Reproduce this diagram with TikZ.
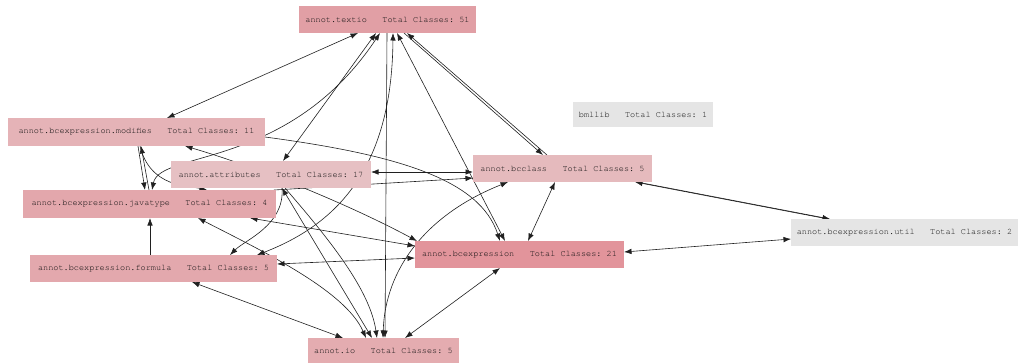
\documentclass[tikz,border=0pt]{standalone}
\usepackage{fontspec}
\setmonofont{TeX Gyre Cursor}
\usetikzlibrary{arrows.meta,calc}
\pgfdeclarelayer{edges}
\pgfsetlayers{edges,main}
\definecolor{ctextio}{HTML}{E19FA5}
\definecolor{cmod}{HTML}{E5B3B7}
\definecolor{cattr}{HTML}{E6C0C3}
\definecolor{cjava}{HTML}{E3A7AC}
\definecolor{cform}{HTML}{E3A8AD}
\definecolor{cbce}{HTML}{E2949B}
\definecolor{cio}{HTML}{E4ACB0}
\definecolor{cbcc}{HTML}{E5BABD}
\definecolor{cgray}{HTML}{E5E5E5}
\definecolor{ctext}{HTML}{101010}
\definecolor{cedge}{HTML}{202020}
\tikzset{
  pkg/.style={rectangle, inner sep=0pt, outer sep=0pt, text=ctext,
    font=\ttfamily\fontsize{8.55}{10}\selectfont},
  dep/.style={draw=cedge, line width=0.6pt, -{Latex[length=7.5pt,width=5.5pt]}},
  bidep/.style={draw=cedge, line width=0.6pt, {Latex[length=7.5pt,width=5.5pt]}-{Latex[length=7.5pt,width=5.5pt]}},
}
\begin{document}
\begin{tikzpicture}[x=1pt,y=-1pt]
\useasboundingbox (0,0) rectangle (1019,362);
% nodes: center, width, height
\node[pkg, fill=ctextio, minimum width=177pt, minimum height=27pt] (textio) at (387.5,19.5) {annot.textio~~~Total Classes: 51};
\node[pkg, fill=cmod, minimum width=257pt, minimum height=28pt] (modifies) at (136.5,132) {annot.bcexpression.modifies~~~Total Classes: 11};
\node[pkg, fill=cattr, minimum width=200pt, minimum height=27pt] (attributes) at (271,174.5) {annot.attributes~~~Total Classes: 17};
\node[pkg, fill=cjava, minimum width=253pt, minimum height=28pt] (javatype) at (149.5,204) {annot.bcexpression.javatype~~~Total Classes: 4};
\node[pkg, fill=cform, minimum width=247pt, minimum height=27pt] (formula) at (153.5,268.5) {annot.bcexpression.formula~~~Total Classes: 5};
\node[pkg, fill=cbce, minimum width=209pt, minimum height=27pt] (bcexpr) at (519.5,254.5) {annot.bcexpression~~~Total Classes: 21};
\node[pkg, fill=cio, minimum width=151pt, minimum height=26pt] (io) at (383.5,351) {annot.io~~~Total Classes: 5};
\node[pkg, fill=cbcc, minimum width=179pt, minimum height=27pt] (bcclass) at (562.5,168.5) {annot.bcclass~~~Total Classes: 5};
\node[pkg, fill=cgray, minimum width=140pt, minimum height=25pt] (bmllib) at (643,114.5) {bmllib~~~Total Classes: 1};
\node[pkg, fill=cgray, minimum width=227pt, minimum height=27pt] (util) at (904.5,232.5) {annot.bcexpression.util~~~Total Classes: 2};

\begin{pgfonlayer}{edges}
\draw[bidep] ([xshift=159pt]modifies.north west) -- ([xshift=59pt]textio.south west);
\draw[bidep] ([xshift=77pt]textio.south west) -- ([xshift=112pt]attributes.north west);
\draw[bidep] ([xshift=81pt]textio.south west) .. controls (289,170) and (160,150) .. ([xshift=129pt]javatype.north west);
\draw[dep] ([xshift=88pt]textio.south west) -- ([xshift=77pt]io.north west);
\draw[bidep] ([xshift=94pt]textio.south west) .. controls (392,170) and (335,225) .. ([xshift=227pt]formula.north west);
\draw[bidep] ([xshift=98pt]textio.south west) -- ([xshift=90pt]bcexpr.north west);
\draw[dep] ([xshift=105pt]textio.south west) -- ([xshift=70pt]bcclass.north west);
\draw[dep] ([xshift=74pt]bcclass.north west) -- ([xshift=108pt]textio.south west);
\draw[dep] ([xshift=130pt]modifies.south west) -- ([xshift=122pt]javatype.north west);
\draw[dep] ([xshift=126pt]javatype.north west) -- ([xshift=133pt]modifies.south west);
\draw[dep] ([yshift=-19pt]modifies.north east) .. controls (400,155) and (480,180) .. ([xshift=85pt]bcexpr.north west);
\draw[bidep] ([yshift=-11pt]attributes.north east) -- ([yshift=-17pt]bcclass.north west);
\draw[dep] ([xshift=-2pt]javatype.north east) -- ([yshift=-23pt]bcclass.north west);
\draw[bidep] ([xshift=177pt]modifies.south west) .. controls (260,168) and (350,205) .. ([xshift=2pt]bcexpr.north west);
\draw[bidep] ([xshift=227pt]javatype.south west) -- ([yshift=-5pt]bcexpr.north west);
\draw[bidep] ([xshift=162pt]formula.south west) -- ([xshift=35pt]io.north west);
\draw[bidep] ([xshift=35pt]bcclass.south west) .. controls (425,215) and (385,270) .. ([xshift=75pt]io.north west);
\draw[bidep] ([xshift=85pt]bcexpr.south west) -- ([xshift=97pt]io.north west);
\draw[bidep] ([xshift=82pt]bcclass.south west) -- ([xshift=113pt]bcexpr.north west);
\draw[dep] ([xshift=164pt]bcclass.south west) -- ([xshift=39pt]util.north west);
\draw[dep] ([xshift=37pt]util.north west) -- ([xshift=162pt]bcclass.south west);
\draw[bidep] ([yshift=-11pt]bcexpr.north east) -- ([yshift=-20pt]util.north west);
\draw[bidep] ([yshift=-9pt]formula.north east) -- ([yshift=-17pt]bcexpr.north west);
\draw[dep] ([xshift=120pt]formula.north west) -- ([xshift=127pt]javatype.south west);
\draw[bidep] ([xshift=111pt]attributes.south west) -- ([xshift=64pt]io.north west);
\draw[dep] ([xshift=114pt]attributes.south west) .. controls (330,240) and (370,290) .. ([xshift=69pt]io.north west);
\draw[bidep] ([xshift=175pt]javatype.south west) .. controls (260,250) and (345,290) .. ([xshift=58pt]io.north west);
\draw[dep] ([xshift=111pt]attributes.south west) .. controls (285,225) and (245,240) .. ([xshift=200pt]formula.north west);
\draw[dep] ([xshift=132pt]modifies.south west) .. controls (150,188) and (190,186) .. ([xshift=184pt]javatype.north west);
\end{pgfonlayer}
\end{tikzpicture}
\end{document}
